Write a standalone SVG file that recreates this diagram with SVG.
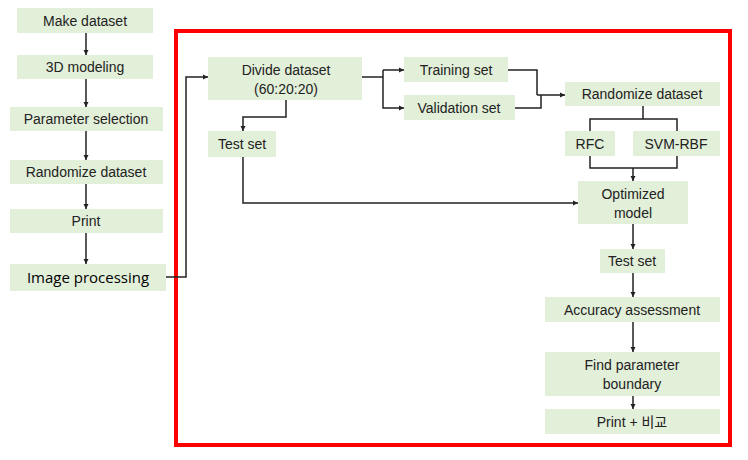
<svg xmlns="http://www.w3.org/2000/svg" width="748" height="460" viewBox="0 0 748 460">
<defs>
<marker id="a" markerWidth="6" markerHeight="6" refX="5" refY="3" orient="auto" markerUnits="userSpaceOnUse"><path d="M0,0.5 L5,3 L0,5.5z" fill="#222"/></marker>
<style>
.n rect{fill:#e2efd9}
.n text{font-family:"Liberation Sans",Arial,sans-serif;font-size:14px;fill:#222;text-anchor:middle}
.c path{fill:none;stroke:#222;stroke-width:1.5}
.c .r{marker-end:url(#a)}
</style>
</defs>
<rect x="176" y="31" width="554" height="414" fill="none" stroke="#ff0000" stroke-width="4"/>
<g class="c">
<path class="r" d="M86,33 V55"/>
<path class="r" d="M86,79 V107"/>
<path class="r" d="M86,131 V160"/>
<path class="r" d="M86,184 V209"/>
<path class="r" d="M86,233 V264"/>
<path class="r" d="M166,277 H186 V77 H208"/>
<path class="r" d="M286,100 V117 H243 V131"/>
<path class="r" d="M243,157 V203 H578"/>
<path d="M362,77 H383"/>
<path class="r" d="M383,70 H404"/>
<path class="r" d="M383,70 V108 H404"/>
<path d="M508,70 H537 V95"/>
<path d="M515,108 H541 V95"/>
<path class="r" d="M537,95 H565"/>
<path d="M643,106 V119 M590,131 V119 H677 V131"/>
<path d="M590,156 V168 H677 V156"/>
<path class="r" d="M633,168 V181"/>
<path class="r" d="M633,224 V249"/>
<path class="r" d="M633,273 V297"/>
<path class="r" d="M633,322 V352"/>
<path class="r" d="M633,396 V409"/>
</g>
<g id="make" class="n"><rect x="17" y="8" width="136" height="25"/><text x="85" y="26">Make dataset</text></g>
<g id="model3d" class="n"><rect x="17" y="55" width="136" height="24"/><text x="85" y="72">3D modeling</text></g>
<g id="param" class="n"><rect x="10" y="107" width="153" height="24"/><text x="86" y="124">Parameter selection</text></g>
<g id="rand1" class="n"><rect x="10" y="160" width="153" height="24"/><text x="86" y="177">Randomize dataset</text></g>
<g id="print1" class="n"><rect x="10" y="209" width="153" height="24"/><text x="86" y="226">Print</text></g>
<g id="img" class="n"><rect x="10" y="264" width="156" height="27"/><text x="88" y="283" style="font-family:'Open Sans','Liberation Sans',sans-serif;font-size:15px;fill:#000">Image processing</text></g>
<g id="divide" class="n"><rect x="208" y="57" width="154" height="43"/><text x="286" y="75">Divide dataset</text><text x="286" y="94">(60:20:20)</text></g>
<g id="test1" class="n"><rect x="208" y="131" width="68" height="26"/><text x="242" y="149">Test set</text></g>
<g id="train" class="n"><rect x="404" y="57" width="104" height="25"/><text x="456" y="75">Training set</text></g>
<g id="valid" class="n"><rect x="404" y="95" width="111" height="25"/><text x="459" y="113">Validation set</text></g>
<g id="rand2" class="n"><rect x="565" y="82" width="155" height="24"/><text x="642" y="99">Randomize dataset</text></g>
<g id="rfc" class="n"><rect x="565" y="131" width="50" height="25"/><text x="590" y="149">RFC</text></g>
<g id="svm" class="n"><rect x="633" y="131" width="87" height="25"/><text x="676" y="149">SVM-RBF</text></g>
<g id="opt" class="n"><rect x="578" y="181" width="110" height="43"/><text x="633" y="199">Optimized</text><text x="633" y="218">model</text></g>
<g id="test2" class="n"><rect x="600" y="249" width="65" height="24"/><text x="632" y="266">Test set</text></g>
<g id="acc" class="n"><rect x="545" y="297" width="175" height="25"/><text x="632" y="315">Accuracy assessment</text></g>
<g id="find" class="n"><rect x="545" y="352" width="175" height="44"/><text x="632" y="370">Find parameter</text><text x="632" y="389">boundary</text></g>
<g id="print2" class="n"><rect x="545" y="409" width="175" height="25"/><text x="632" y="427" style="font-family:'Liberation Sans','Noto Sans CJK KR',sans-serif">Print + 비교</text></g>
</svg>
